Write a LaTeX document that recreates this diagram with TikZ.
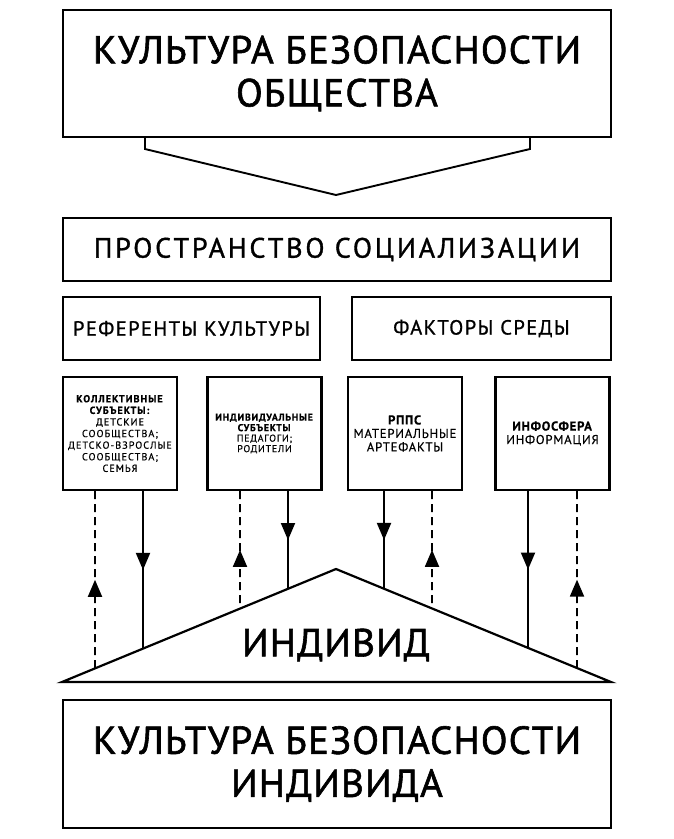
\documentclass[tikz,border=0pt]{standalone}
\usepackage{fontspec}
\setmainfont{PT Sans}
\usetikzlibrary{positioning,arrows.meta,calc,decorations.markings}

\begin{document}
\begin{tikzpicture}[x=1pt,y=-1pt,
    box/.style={draw,line width=2.4pt,align=center,inner sep=0pt},
    bigtext/.style={font=\addfontfeature{LetterSpace=3,FakeBold=1.5}\fontsize{39}{43}\selectfont},
    midtext/.style={font=\addfontfeature{LetterSpace=10,FakeBold=1.2}\fontsize{28}{30}\selectfont},
    subtext/.style={font=\addfontfeature{LetterSpace=7,FakeBold=1}\fontsize{20.5}{22}\selectfont},
    down/.style={line width=1.9pt,postaction={decorate},
        decoration={markings,mark=at position 0.5 with {\arrow{Triangle[length=17pt,width=14pt]}}}},
    up/.style={line width=1.9pt,dash pattern=on 8pt off 5pt,postaction={decorate},
        decoration={markings,mark=at position 0.5 with {\arrowreversed{Triangle[length=17pt,width=14pt]}}}}]
    \useasboundingbox (0,0) rectangle (673,839);
    % society and space of socialisation
    \node[box,bigtext,minimum width=548pt,minimum height=127pt] (society) at (337,73.5)
        {КУЛЬТУРА БЕЗОПАСНОСТИ\\ОБЩЕСТВА};
    \node[box,midtext,minimum width=548pt,minimum height=63pt] (space) at (337,249.5)
        {ПРОСТРАНСТВО СОЦИАЛИЗАЦИИ};
    \node[box,subtext,minimum width=257pt,minimum height=63pt] (refs) at (191.5,328.5)
        {РЕФЕРЕНТЫ КУЛЬТУРЫ};
    \node[box,subtext,minimum width=259pt,minimum height=63pt] (env) at (481.5,328.5)
        {ФАКТОРЫ СРЕДЫ};
    \draw[line width=1.9pt] (society.south -| 145,0) -- (145,149) -- (336,195) -- (530,149)
        -- (society.south -| 530,0);
    % four sources
    \node[box,minimum width=114pt,minimum height=113pt,
        font=\addfontfeature{LetterSpace=10,FakeBold=0.5}\fontsize{10.2}{11.6}\selectfont] (coll) at (120,433.5)
        {\textbf{КОЛЛЕКТИВНЫЕ}\\\textbf{СУБЪЕКТЫ:}\\ДЕТСКИЕ\\СООБЩЕСТВА;\\ДЕТСКО-ВЗРОСЛЫЕ\\СООБЩЕСТВА;\\СЕМЬЯ};
    \node[box,minimum width=114pt,minimum height=113pt,
        font=\addfontfeature{LetterSpace=8,FakeBold=0.5}\fontsize{9.9}{10.5}\selectfont] (pers) at (264.5,433.5)
        {\textbf{ИНДИВИДУАЛЬНЫЕ}\\\textbf{СУБЪЕКТЫ}\\ПЕДАГОГИ;\\РОДИТЕЛИ};
    \node[box,minimum width=114pt,minimum height=113pt,
        font=\addfontfeature{LetterSpace=6,FakeBold=0.5}\fontsize{12.8}{13.5}\selectfont] (rpps) at (405,433.5)
        {\textbf{РППС}\\МАТЕРИАЛЬНЫЕ\\АРТЕФАКТЫ};
    \node[box,minimum width=114pt,minimum height=113pt,
        font=\addfontfeature{LetterSpace=6,FakeBold=0.5}\fontsize{12.8}{13.5}\selectfont] (info) at (552.5,433.5)
        {\textbf{ИНФОСФЕРА}\\ИНФОРМАЦИЯ};
    % individual
    \coordinate (tl) at (62,682);
    \coordinate (tr) at (611,682);
    \coordinate (apex) at (336,569);
    \draw[line width=2.2pt,line join=miter] (tl) -- (apex) -- (tr) -- cycle;
    \node[bigtext] (ind) at (336,645) {ИНДИВИД};
    \foreach \src/\dx/\kind/\edge in {coll/23/down/tl, coll/-25/up/tl, pers/23.5/down/tl, pers/-24.5/up/tl,
        rpps/-21/down/tr, rpps/27/up/tr, info/-24.5/down/tr, info/24.5/up/tr} {
      \coordinate (p) at ($(\src.south)+(\dx,0)$);
      \coordinate (q) at ($(p)+(0,50)$);
      \draw[\kind] (p) -- (intersection of p--q and \edge--apex);
    }
    \node[box,bigtext,minimum width=548pt,minimum height=128pt] (person) at (337,764)
        {КУЛЬТУРА БЕЗОПАСНОСТИ\\ИНДИВИДА};
\end{tikzpicture}
\end{document}
